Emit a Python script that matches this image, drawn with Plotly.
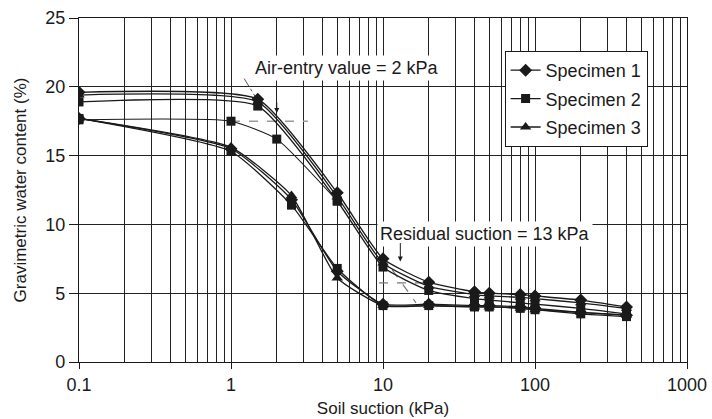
import math
import plotly.graph_objects as go

# ---------------- data ----------------
suction_drying = [0.1, 1.5, 5, 10, 20, 40, 50, 80, 100, 200, 400]
spec1_drying = [19.6, 19.1, 12.3, 7.5, 5.8, 5.1, 5.0, 4.9, 4.8, 4.5, 4.0]
spec2_drying = [18.9, 18.6, 11.7, 6.9, 5.2, 4.6, 4.5, 4.3, 4.2, 3.9, 3.5]
spec3_drying = [19.4, 18.9, 12.0, 7.2, 5.5, 4.9, 4.8, 4.7, 4.6, 4.3, 3.9]

suction_lower = [0.1, 1, 2.5, 5, 10, 20, 40, 50, 80, 100, 200, 400]
spec1_lower = [17.7, 15.5, 11.8, 6.6, 4.2, 4.2, 4.1, 4.1, 4.0, 3.9, 3.6, 3.4]
spec2_lower = [17.7, 15.3, 11.4, 6.8, 4.1, 4.1, 4.0, 4.0, 3.9, 3.8, 3.5, 3.3]
spec3_lower = [17.7, 15.6, 12.1, 6.1, 4.1, 4.1, 4.0, 4.0, 3.9, 3.8, 3.6, 3.4]

suction_spec2_extra = [0.1, 1, 2, 5]
spec2_extra = [17.6, 17.5, 16.2, 11.7]

names = ["Specimen 1", "Specimen 2", "Specimen 3"]
symbols = ["diamond", "square", "triangle-up"]
marker_sizes = [10, 9, 10]

# construction lines (air-entry and residual)
air_dash_x = [1.0, 3.2]
air_dash_y = [17.5, 17.5]
air_tan_x = [1.22, 1.46]
air_tan_y = [20.6, 19.2]
res_dash_x = [9.4, 18.0]
res_dash_y = [5.75, 5.75]
res_tan_x = [11.5, 16.5]
res_tan_y = [6.7, 4.3]

air_entry_kpa = 2
residual_kpa = 13

FONT = "Liberation Sans, Arial, sans-serif"
INK = "#1a1a1a"
GRID = "#222222"

fig = go.Figure()

# guide lines
fig.add_trace(go.Scatter(x=air_dash_x, y=air_dash_y, mode="lines",
                         line=dict(color="#999999", width=1.5, dash="dash"),
                         showlegend=False, hoverinfo="skip"))
fig.add_trace(go.Scatter(x=air_tan_x, y=air_tan_y, mode="lines",
                         line=dict(color="#555555", width=1, dash="dashdot"),
                         showlegend=False, hoverinfo="skip"))
fig.add_trace(go.Scatter(x=res_dash_x, y=res_dash_y, mode="lines",
                         line=dict(color="#777777", width=1.2, dash="dash"),
                         showlegend=False, hoverinfo="skip"))
fig.add_trace(go.Scatter(x=res_tan_x, y=res_tan_y, mode="lines",
                         line=dict(color="#777777", width=1.2, dash="dash"),
                         showlegend=False, hoverinfo="skip"))

drying = [spec1_drying, spec2_drying, spec3_drying]
lower = [spec1_lower, spec2_lower, spec3_lower]

line_style = dict(color=INK, width=1.3, shape="spline", smoothing=0.5)

for i in range(3):
    mk = dict(symbol=symbols[i], size=marker_sizes[i], color=INK)
    fig.add_trace(go.Scatter(x=suction_drying, y=drying[i], mode="lines+markers",
                             name=names[i], legendgroup=names[i],
                             line=line_style, marker=mk))
    fig.add_trace(go.Scatter(x=suction_lower, y=lower[i], mode="lines+markers",
                             name=names[i], legendgroup=names[i], showlegend=False,
                             line=line_style, marker=mk))
    if i == 1:
        fig.add_trace(go.Scatter(x=suction_spec2_extra, y=spec2_extra, mode="lines+markers",
                                 name=names[i], legendgroup=names[i], showlegend=False,
                                 line=dict(color=INK, width=1.1, shape="spline", smoothing=0.5),
                                 marker=mk))

axis_common = dict(
    showline=True, linecolor=INK, linewidth=1.2, mirror=True,
    ticks="outside", tickcolor=INK, tickwidth=1,
    showgrid=True, gridcolor=GRID, gridwidth=1.2,
    zeroline=False, automargin=False,
    tickfont=dict(family=FONT, size=18, color=INK),
)

fig.update_xaxes(
    type="log", range=[-1, 3],
    tickmode="array", tickvals=[0.1, 1, 10, 100, 1000],
    ticktext=["0.1", "1", "10", "100", "1000"],
    ticklen=6,
    minor=dict(dtick="D1", showgrid=True, gridcolor=GRID, gridwidth=1.2, ticks=""),
    title=dict(text="Soil suction (kPa)", font=dict(family=FONT, size=17, color=INK), standoff=8),
    **axis_common,
)
fig.update_yaxes(
    range=[0, 25], dtick=5, tick0=0, ticklen=9,
    title=dict(text="Gravimetric water content (%)", font=dict(family=FONT, size=17, color=INK), standoff=14),
    **axis_common,
)

fig.add_annotation(x=math.log10(1.37), y=21.4, xref="x", yref="y",
                   text="Air-entry value = 2 kPa", showarrow=False,
                   xanchor="left", yanchor="middle", bgcolor="white", borderpad=2,
                   font=dict(family=FONT, size=18, color=INK))
fig.add_annotation(x=math.log10(9.1), y=9.3, xref="x", yref="y",
                   text="Residual suction = 13 kPa", showarrow=False,
                   xanchor="left", yanchor="middle", bgcolor="white", borderpad=2,
                   font=dict(family=FONT, size=18, color=INK))
fig.add_annotation(x=math.log10(air_entry_kpa), y=18.1, xref="x", yref="y",
                   text="", showarrow=True, ax=0, ay=-12,
                   arrowhead=2, arrowsize=1, arrowwidth=1, arrowcolor=INK)
fig.add_annotation(x=math.log10(residual_kpa), y=7.3, xref="x", yref="y",
                   text="", showarrow=True, ax=0, ay=-20,
                   arrowhead=2, arrowsize=1, arrowwidth=1, arrowcolor=INK)

fig.update_layout(
    width=712, height=419,
    margin=dict(l=79, r=25, t=18, b=57),
    paper_bgcolor="white", plot_bgcolor="white",
    font=dict(family=FONT, color=INK),
    legend=dict(x=0.70, y=0.904, xanchor="left", yanchor="top",
                bgcolor="white", bordercolor=INK, borderwidth=1,
                traceorder="grouped", tracegroupgap=2,
                font=dict(family=FONT, size=18, color=INK)),
)

fig.write_html("out.html")
